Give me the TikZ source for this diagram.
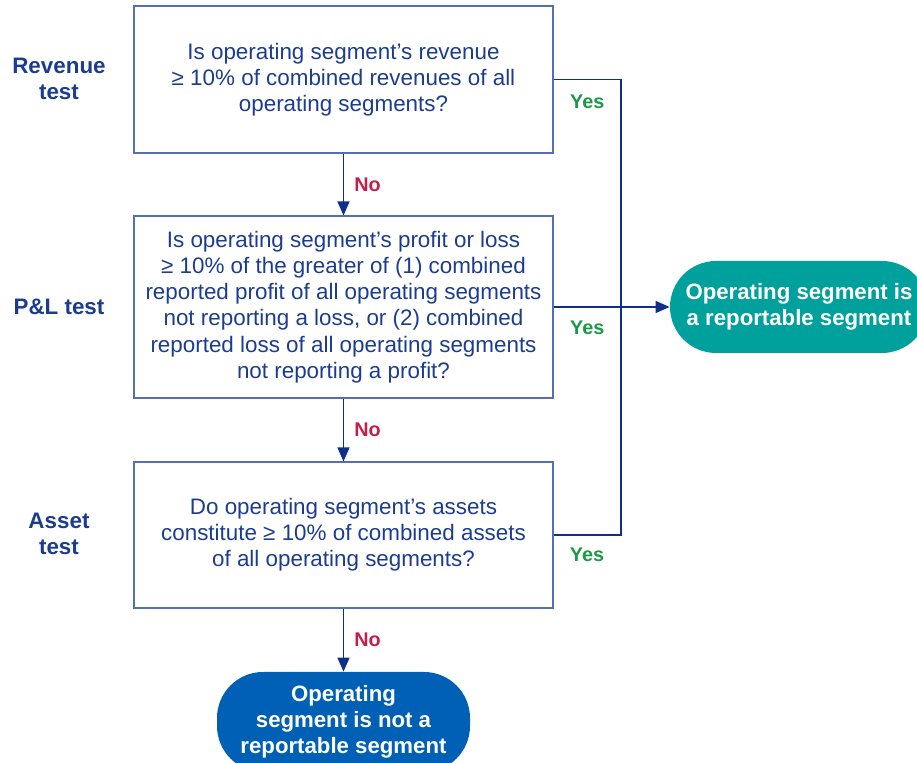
\documentclass[tikz,border=0pt]{standalone}
\usepackage{fontspec}
\setmainfont{Liberation Sans}
\usetikzlibrary{positioning,arrows.meta}
\definecolor{navy}{HTML}{0E2F8A}
\definecolor{ink}{HTML}{1C3D8F}
\definecolor{frame}{HTML}{5470B5}
\definecolor{nored}{HTML}{C41E4A}
\definecolor{yesgreen}{HTML}{1A9A46}
\definecolor{reptea}{HTML}{00A19C}
\definecolor{notblue}{HTML}{0060B6}
\tikzset{
  qbox/.style={draw=frame, line width=0.6pt, text=ink, align=center, minimum width=209.5pt, inner sep=0pt, font=\fontsize{11.2}{13.1}\selectfont},
  pill/.style={text=white, align=center, inner sep=0pt, rounded corners=23pt, font=\bfseries\fontsize{11.1}{13.1}\selectfont},
  flow/.style={draw=navy, line width=0.75pt, -{Triangle[length=7pt,width=6pt]}},
  link/.style={draw=navy, line width=0.75pt},
  side/.style={text=ink, align=center, font=\bfseries\fontsize{11.2}{13.1}\selectfont},
  nolab/.style={text=nored, anchor=west, inner sep=0pt, xshift=5pt, font=\bfseries\fontsize{9.9}{11}\selectfont},
  yeslab/.style={text=yesgreen, inner sep=0pt, font=\bfseries\fontsize{9.9}{11}\selectfont},
}
\begin{document}
\begin{tikzpicture}[x=0.5pt, y=-0.5pt]
  \useasboundingbox (0,0) rectangle (917,763);
  % questions
  \node[qbox, minimum height=73.5pt] (rev) at (343.5,79.5)
    {Is operating segment’s revenue\\ ≥ 10\% of combined revenues of all\\ operating segments?};
  \node[qbox, minimum height=91pt] (pl) at (343.5,307)
    {Is operating segment’s profit or loss\\ ≥ 10\% of the greater of (1) combined\\ reported profit of all operating segments\\ not reporting a loss, or (2) combined\\ reported loss of all operating segments\\ not reporting a profit?};
  \node[qbox, minimum height=73pt] (ast) at (343.5,535)
    {Do operating segment’s assets\\ constitute ≥ 10\% of combined assets\\ of all operating segments?};
  % outcomes
  \node[pill, fill=reptea, minimum width=129pt, minimum height=46pt] (yes) at (799,307)
    {Operating segment is\\ a reportable segment};
  \node[pill, fill=notblue, minimum width=126.5pt, minimum height=50pt] (nope) at (343.5,722)
    {Operating\\ segment is not a\\ reportable segment};
  % tests
  \node[side] (trev) at (59,79) {Revenue\\ test};
  \node[side] (tpl) at (59,307) {P\&L test};
  \node[side] (tast) at (59,534) {Asset\\ test};
  % connectors
  \coordinate (bus) at (621,79.5);
  \draw[flow] (rev) -- node[nolab] {No} (pl);
  \draw[flow] (pl) -- node[nolab] {No} (ast);
  \draw[flow] (ast) -- node[nolab] {No} (nope);
  \draw[link] (rev.east) -- node[yeslab, yshift=-11pt] {Yes} (bus) |- (ast.east);
  \draw[flow] (pl.east) -- node[yeslab, pos=0.29, yshift=-10.5pt] {Yes} (yes.west);
  \node[yeslab] at (587,555) {Yes};
\end{tikzpicture}
\end{document}
